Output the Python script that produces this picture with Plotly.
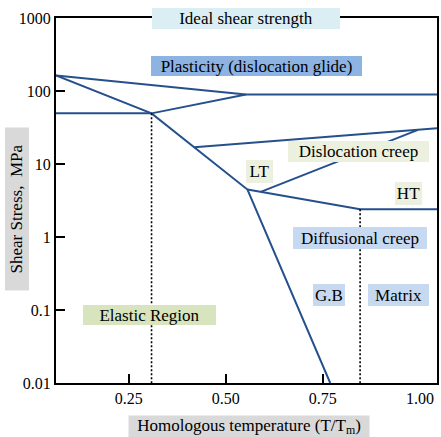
import math
import plotly.graph_objects as go

# ---- data (homologous temperature T/Tm, shear stress MPa) ----
glide_top_T = [0.063, 0.552, 1.044]
glide_top_S = [163, 89.7, 89.7]

glide_low_T = [0.063, 0.309, 0.552]
glide_low_S = [49.4, 49.4, 89.7]

elastic_T = [0.063, 0.309, 0.556, 0.769]
elastic_S = [163, 49.4, 4.47, 0.01]

creep_top_T = [0.419, 1.044]
creep_top_S = [16.9, 30.8]

lt_ht_T = [0.556, 0.846, 1.044]
lt_ht_S = [4.47, 2.40, 2.40]

lt_branch_T = [0.590, 0.995]
lt_branch_S = [4.15, 29.4]

dot1_T = [0.309, 0.309]
dot1_S = [49.4, 0.01]
dot2_T = [0.846, 0.846]
dot2_S = [2.40, 0.01]

x_ticks = [0.25, 0.50, 0.75, 1.00]
x_ticktext = ["0.25", "0.50", "0.75", "1.00"]
y_ticks = [0.01, 0.1, 1, 10, 100, 1000]
y_ticktext = ["0.01", "0.1", "1", "10", "100", "1000"]

# region labels: text, T, stress
region_text = ["Ideal shear strength", "Plasticity (dislocation glide)", "Dislocation creep",
               "LT", "HT", "Diffusional creep", "G.B", "Matrix", "Elastic Region"]
region_T = [0.552, 0.579, 0.842, 0.587, 0.970, 0.847, 0.767, 0.944, 0.304]
region_S = [1000, 217, 14.9, 7.94, 3.97, 0.963, 0.16, 0.16, 0.085]

LINE = "#25508c"
FONT = "Liberation Serif, Times New Roman, serif"

fig = go.Figure()
for T, S in [(glide_top_T, glide_top_S), (glide_low_T, glide_low_S), (elastic_T, elastic_S),
             (creep_top_T, creep_top_S), (lt_ht_T, lt_ht_S), (lt_branch_T, lt_branch_S)]:
    fig.add_trace(go.Scatter(x=T, y=S, mode="lines", line=dict(color=LINE, width=2),
                             showlegend=False, hoverinfo="skip"))
for T, S in [(dot1_T, dot1_S), (dot2_T, dot2_S)]:
    fig.add_trace(go.Scatter(x=T, y=S, mode="lines",
                             line=dict(color="black", width=1.6, dash="2px,2px"),
                             showlegend=False, hoverinfo="skip"))

styles = {
    "Ideal shear strength": ("#daeef3", 188, 21),
    "Plasticity (dislocation glide)": ("#8db3e2", 211, 20),
    "Dislocation creep": ("#ebf1de", 141, 21),
    "LT": ("#ebf1de", 27, 23),
    "HT": ("#ebf1de", 27, 23),
    "Diffusional creep": ("#c6d9f1", 134, 22),
    "G.B": ("#c6d9f1", 32, 22),
    "Matrix": ("#c6d9f1", 61, 22),
    "Elastic Region": ("#d7e4bd", 133, 20),
}
for t, xv, yv in zip(region_text, region_T, region_S):
    bg, w, h = styles[t]
    fig.add_annotation(x=xv, y=math.log10(yv), xref="x", yref="y", text=t, showarrow=False,
                       xanchor="center", yanchor="middle",
                       font=dict(family=FONT, size=17, color="black"), bgcolor=bg,
                       width=w, height=h, borderpad=0, borderwidth=0, align="center",
                       valign="middle")

# axis titles as boxed annotations
fig.add_annotation(x=0.5065, y=-0.1204, xref="paper", yref="paper",
                   xanchor="center", yanchor="middle",
                   text="Homologous temperature (T/T<sub>m</sub>)", showarrow=False,
                   font=dict(family=FONT, size=17, color="black"), bgcolor="#d9d9d9",
                   width=240, height=21, borderpad=0)
fig.add_annotation(x=-0.1031, y=0.476, xref="paper", yref="paper",
                   xanchor="center", yanchor="middle",
                   text="Shear Stress,&nbsp; MPa", showarrow=False, textangle=-90,
                   font=dict(family=FONT, size=17, color="black"), bgcolor="#d9d9d9",
                   width=162, height=23, borderpad=0)

fig.update_xaxes(range=[0.063, 1.044], tickvals=x_ticks, ticktext=x_ticktext,
                 ticks="", showline=True, linecolor="black", linewidth=2, mirror=True,
                 showgrid=False, zeroline=False,
                 tickfont=dict(family=FONT, size=16, color="black"),
                 minor=dict(tickvals=x_ticks[:3], ticks="inside", ticklen=9, tickwidth=2,
                            tickcolor="black", showgrid=False))
fig.update_yaxes(type="log", range=[-2, 3], tickvals=y_ticks, ticktext=y_ticktext,
                 ticks="inside", ticklen=9, tickwidth=2, tickcolor="black",
                 showline=True, linecolor="black", linewidth=2, mirror=True,
                 showgrid=False, zeroline=False,
                 tickfont=dict(family=FONT, size=16, color="black"))
fig.update_layout(width=441, height=437, margin=dict(l=56, r=2, t=18, b=54),
                  plot_bgcolor="white", paper_bgcolor="white")
fig.write_html("out.html")
